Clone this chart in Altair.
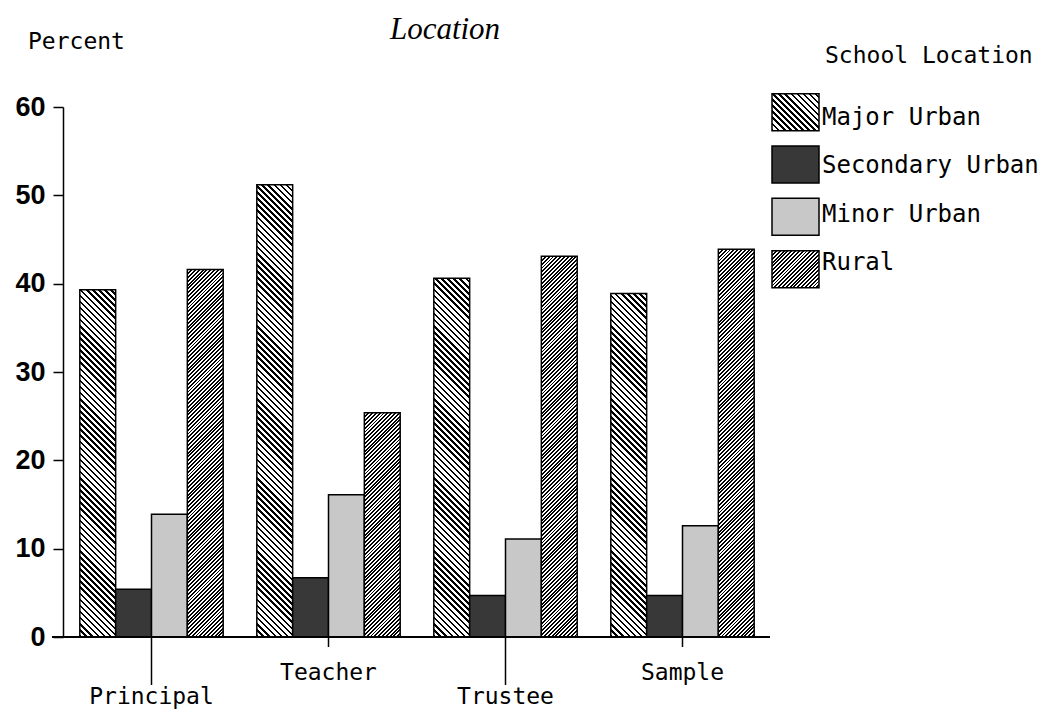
import math
import altair as alt

# ---------------- data ----------------
categories = ["Principal", "Teacher", "Trustee", "Sample"]
series = ["Major Urban", "Secondary Urban", "Minor Urban", "Rural"]
major_urban = [39.3, 51.2, 40.6, 38.9]
secondary_urban = [5.4, 6.7, 4.7, 4.7]
minor_urban = [13.9, 16.1, 11.1, 12.6]
rural = [41.6, 25.4, 43.1, 43.9]
y_ticks = [0, 10, 20, 30, 40, 50, 60]

values_by_series = {
    "Major Urban": major_urban,
    "Secondary Urban": secondary_urban,
    "Minor Urban": minor_urban,
    "Rural": rural,
}

# ---------------- layout / style ----------------
W, H = 708, 530
Y_MAX = 60
PAD_INNER, PAD_OUTER = 0.19, 0.095
STEP = W / (len(categories) - PAD_INNER + 2 * PAD_OUTER)
BAR_W = STEP * (1 - PAD_INNER) / len(series)
MONO = "DejaVu Sans Mono"


def hatch(w, h, period, frac, rising, ink="#000000", paper="#ffffff"):
    """Striped linear gradient giving 45-degree hatching in a w x h box."""
    s = (w + h) / (w * w + h * h)
    n = (w + h) / (math.sqrt(2) * period)
    stops = []
    k = 0
    while k < n:
        a = min(k / n, 1)
        b = min((k + frac) / n, 1)
        c = min((k + 1) / n, 1)
        stops += [
            {"offset": round(a, 5), "color": ink},
            {"offset": round(b, 5), "color": ink},
            {"offset": round(b, 5), "color": paper},
            {"offset": round(c, 5), "color": paper},
        ]
        k += 1
    if rising:
        x1, y1, x2, y2 = 0, 0, s * w, s * h
    else:
        x1, y1, x2, y2 = 0, 1, s * w, 1 - s * h
    return {"gradient": "linear", "x1": x1, "y1": y1, "x2": x2, "y2": y2, "stops": stops}


def fill_for(ser, w, h):
    if ser == "Major Urban":
        return hatch(w, h, 4.3, 0.42, False)
    if ser == "Rural":
        return hatch(w, h, 2.7, 0.5, True)
    if ser == "Secondary Urban":
        return "#383838"
    return "#c8c8c8"


rows = []
for ser in series:
    for cat, val in zip(categories, values_by_series[ser]):
        rows.append({"group": cat, "series": ser, "value": val,
                     "fill": fill_for(ser, BAR_W, val / Y_MAX * H)})

legend_rows = [{"series": ser, "fill": fill_for(ser, 47, 37)} for ser in series]

x_scale = alt.Scale(domain=categories, paddingInner=PAD_INNER, paddingOuter=PAD_OUTER)

bars = alt.Chart(alt.Data(values=rows)).mark_bar(stroke="black", strokeWidth=1.5).encode(
    x=alt.X("group:N", scale=x_scale, axis=None),
    xOffset=alt.XOffset("series:N", scale=alt.Scale(domain=series)),
    y=alt.Y(
        "value:Q",
        scale=alt.Scale(domain=[0, Y_MAX], nice=False, zero=True),
        axis=alt.Axis(
            values=y_ticks, title=None, grid=False,
            domainColor="black", domainWidth=1.5,
            tickColor="black", tickSize=10, tickWidth=1.5,
            labelFont="Liberation Sans", labelFontWeight="bold",
            labelFontSize=27, labelColor="black", labelPadding=8,
        ),
    ),
    fill=alt.Fill("fill:N", scale=None),
)

cat_data = alt.Data(values=[{"group": c} for c in categories])

cat_base = alt.Chart(cat_data).transform_window(
    idx="row_number()"
).transform_calculate(
    ty1=f"{H}",
    ty2=f"datum.idx % 2 == 1 ? {H + 48} : {H + 10}",
    ly=f"datum.idx % 2 == 1 ? {H + 67} : {H + 43}",
)

cat_ticks = cat_base.mark_rule(color="black", strokeWidth=1.5).encode(
    x=alt.X("group:N", scale=x_scale, axis=None),
    y=alt.Y("ty1:Q", scale=None, axis=None),
    y2="ty2:Q",
)

cat_labels = cat_base.mark_text(
    font=MONO, fontSize=23, align="center", baseline="alphabetic", color="black"
).encode(
    x=alt.X("group:N", scale=x_scale, axis=None),
    y=alt.Y("ly:Q", scale=None, axis=None),
    text="group:N",
)

leg_scale = alt.Scale(domain=series, range=[-13.3, 180.7], paddingInner=0.293, paddingOuter=0)

leg_rects = alt.Chart(alt.Data(values=legend_rows)).mark_rect(
    stroke="black", strokeWidth=1.5
).encode(
    x=alt.value(709), x2=alt.value(756),
    y=alt.Y("series:N", scale=leg_scale, axis=None),
    fill=alt.Fill("fill:N", scale=None),
)

leg_text = alt.Chart(alt.Data(values=legend_rows)).mark_text(
    font=MONO, fontSize=24, align="left", baseline="middle", color="black"
).encode(
    x=alt.value(759),
    y=alt.Y("series:N", scale=leg_scale, axis=None),
    text="series:N",
)

baseline = alt.Chart(alt.Data(values=[{"a": 0}])).mark_rule(
    color="black", strokeWidth=2
).encode(x=alt.value(-11), x2=alt.value(W - 1), y=alt.value(H))

percent = alt.Chart(alt.Data(values=[{"t": "Percent"}])).mark_text(
    font=MONO, fontSize=23, align="left", baseline="alphabetic", color="black"
).encode(x=alt.value(-35), y=alt.value(-58), text="t:N")

title = alt.Chart(alt.Data(values=[{"t": "Location"}])).mark_text(
    font="Liberation Serif", fontSize=31, fontStyle="italic", align="center",
    baseline="alphabetic", color="black"
).encode(x=alt.value(382), y=alt.value(-68), text="t:N")

leg_title = alt.Chart(alt.Data(values=[{"t": "School Location"}])).mark_text(
    font=MONO, fontSize=23, align="left", baseline="alphabetic", color="black"
).encode(x=alt.value(762), y=alt.value(-44), text="t:N")

chart = alt.layer(
    bars, cat_ticks, cat_labels, leg_rects, leg_text, baseline, percent, title, leg_title
).resolve_scale(
    y="independent"
).properties(
    width=W, height=H,
    autosize=alt.AutoSizeParams(type="none"),
    padding={"left": 55, "top": 99, "right": 272, "bottom": 73},
    background="white",
).configure_view(stroke=None)

chart.save("out.html", embed_options={"renderer": "svg", "actions": False})
